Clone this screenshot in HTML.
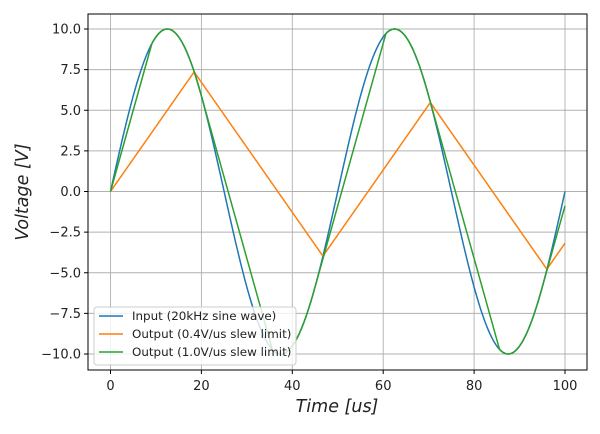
<!DOCTYPE html>
<html><head><meta charset="utf-8"><style>
body{margin:0;background:#fff;}
svg text{font-family:"DejaVu Sans","Liberation Sans",sans-serif;fill:#222;}
</style></head><body>
<svg id="s" width="600" height="429" xmlns="http://www.w3.org/2000/svg">
<g id="grid" stroke="#b0b0b0" stroke-width="0.9"></g>
<g id="lines" fill="none" stroke-width="1.5"></g>
<rect x="88" y="14" width="499" height="356" fill="none" stroke="#000" stroke-width="1"/>
<g id="ticks" font-size="13"></g>
<text x="337" y="412" font-size="17.5" font-style="italic" text-anchor="middle">Time [us]</text>
<text transform="translate(28,192) rotate(-90)" font-size="17.5" font-style="italic" text-anchor="middle">Voltage [V]</text>
<g>
<rect x="94" y="307" width="202" height="58" rx="3" fill="#fff" fill-opacity="0.8" stroke="#ccc"/>
<line x1="99" y1="316" x2="123" y2="316" stroke="#1f77b4" stroke-width="1.5"/>
<line x1="99" y1="334" x2="123" y2="334" stroke="#ff7f0e" stroke-width="1.5"/>
<line x1="99" y1="352" x2="123" y2="352" stroke="#2ca02c" stroke-width="1.5"/>
<text x="132" y="320" font-size="11.9">Input (20kHz sine wave)</text>
<text x="132" y="338" font-size="11.9">Output (0.4V/us slew limit)</text>
<text x="132" y="356" font-size="11.9">Output (1.0V/us slew limit)</text>
</g>
</svg>
<script>
var X=t=>110.5+t*4.545, Y=v=>191.5-v*16.25, NS="http://www.w3.org/2000/svg";
function el(p,n,a,txt){var e=document.createElementNS(NS,n);for(var k in a)e.setAttribute(k,a[k]);if(txt!=null)e.textContent=txt;document.getElementById(p).appendChild(e);}
for(var t=0;t<=100;t+=20){el("grid","line",{x1:X(t),x2:X(t),y1:14,y2:370});el("ticks","line",{x1:X(t),x2:X(t),y1:370,y2:374,stroke:"#000"});el("ticks","text",{x:X(t),y:390,"text-anchor":"middle"},t);}
for(var v=-10;v<=10;v+=2.5){el("grid","line",{x1:88,x2:587,y1:Y(v),y2:Y(v)});el("ticks","line",{x1:84,x2:88,y1:Y(v),y2:Y(v),stroke:"#000"});el("ticks","text",{x:81,y:Y(v)+4.5,"text-anchor":"end"},v.toFixed(1).replace("-","−"));}
var f=t=>10*Math.sin(2*Math.PI*0.02*t),dt=0.05;
function sim(r){var o=0,d="M"+X(0)+","+Y(0);for(var i=1;i<=2000;i++){var t=i*dt,g=f(t),dd=g-o,m=r*dt;o+=Math.max(-m,Math.min(m,dd));if(i%4==0)d+=" L"+X(t).toFixed(2)+","+Y(o).toFixed(2);}return d;}
var d="";for(var i=0;i<=500;i++){var t=i*0.2;d+=(i?" L":"M")+X(t).toFixed(2)+","+Y(f(t)).toFixed(2);}
el("lines","path",{d:d,stroke:"#1f77b4"});
el("lines","path",{d:sim(0.4),stroke:"#ff7f0e"});
el("lines","path",{d:sim(1.0),stroke:"#2ca02c"});
</script>
</body></html>
